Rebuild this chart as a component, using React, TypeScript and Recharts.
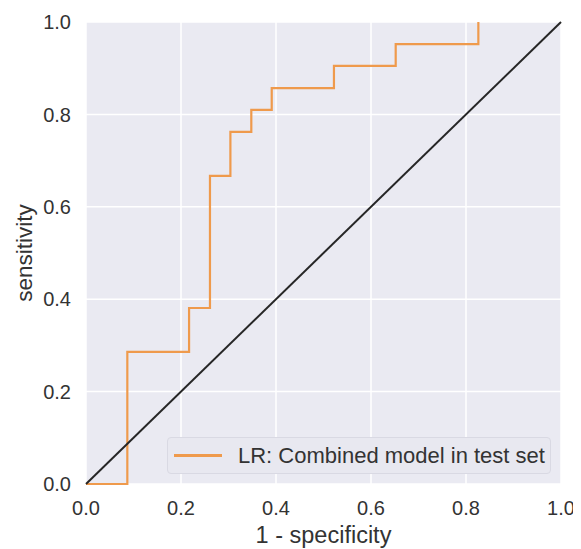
import React from 'react';
import { LineChart, Line, XAxis, YAxis, CartesianGrid, Legend } from 'recharts';

// ROC curve points (step corners)
const fpr = [0, 0.087, 0.217, 0.261, 0.304, 0.348, 0.391, 0.522, 0.652, 0.826];
const tpr = [0, 0.286, 0.381, 0.667, 0.762, 0.81, 0.857, 0.905, 0.952, 1.0];

// chance line
const chanceX = [0, 1];
const chanceY = [0, 1];

const axisTicks = [0, 0.2, 0.4, 0.6, 0.8, 1.0];
const seriesName = 'LR: Combined model in test set';

const rocData = fpr.map((x, i) => ({ x, y: tpr[i] }));
const chanceData = chanceX.map((x, i) => ({ x, y: chanceY[i] }));

const ORANGE = '#EF9A4C';
const FONT = '"Liberation Sans", Arial, sans-serif';

const LegendBox = () => (
  <div
    style={{
      boxSizing: 'border-box',
      width: 384,
      height: 37,
      border: '1px solid #d9d9e3',
      borderRadius: 4,
      background: '#e8e8f0',
      display: 'flex',
      alignItems: 'center',
      fontFamily: FONT,
      fontSize: 22,
      color: '#333',
    }}
  >
    <span style={{ display: 'inline-block', width: 48, height: 2.5, background: ORANGE, marginLeft: 6 }} />
    <span style={{ marginLeft: 16, whiteSpace: 'nowrap' }}>{seriesName}</span>
  </div>
);

const App = () => {
  return (
    <div style={{ width: 573, height: 541 }}>
      <LineChart width={573} height={541} margin={{ top: 14, right: 20, left: 0, bottom: 0 }}>
        <CartesianGrid fill="#EAEAF2" stroke="#ffffff" strokeWidth={1.5} />
        <XAxis
          type="number"
          dataKey="x"
          domain={[0, 1]}
          ticks={axisTicks}
          tickFormatter={(v: number) => v.toFixed(1)}
          axisLine={false}
          tickLine={false}
          tickSize={0}
          tickMargin={17}
          height={65}
          tick={{ fill: '#333', fontSize: 20, fontFamily: FONT }}
          label={{
            value: '1 - specificity',
            position: 'insideBottom',
            offset: 6,
            fill: '#333',
            fontSize: 23.5,
            fontFamily: FONT,
          }}
        />
        <YAxis
          type="number"
          dataKey="y"
          domain={[0, 1]}
          ticks={axisTicks}
          tickFormatter={(v: number) => v.toFixed(1)}
          axisLine={false}
          tickLine={false}
          tickSize={0}
          tickMargin={15}
          width={78}
          tick={{ fill: '#333', fontSize: 20, fontFamily: FONT }}
          label={{
            value: 'sensitivity',
            angle: -90,
            position: 'insideLeft',
            offset: 16,
            fill: '#333',
            fontSize: 22.5,
            fontFamily: FONT,
            style: { textAnchor: 'middle' },
          }}
        />
        <Legend
          layout="horizontal"
          verticalAlign="middle"
          align="center"
          wrapperStyle={{ left: 159, top: 429, width: 384 }}
          content={() => <LegendBox />}
        />
        <Line
          data={rocData}
          dataKey="y"
          name={seriesName}
          type="stepAfter"
          stroke={ORANGE}
          strokeWidth={2.2}
          dot={false}
          activeDot={false}
          isAnimationActive={false}
        />
        <Line
          data={chanceData}
          dataKey="y"
          legendType="none"
          type="linear"
          stroke="#262626"
          strokeWidth={2}
          dot={false}
          activeDot={false}
          isAnimationActive={false}
        />
      </LineChart>
    </div>
  );
};

export default App;
